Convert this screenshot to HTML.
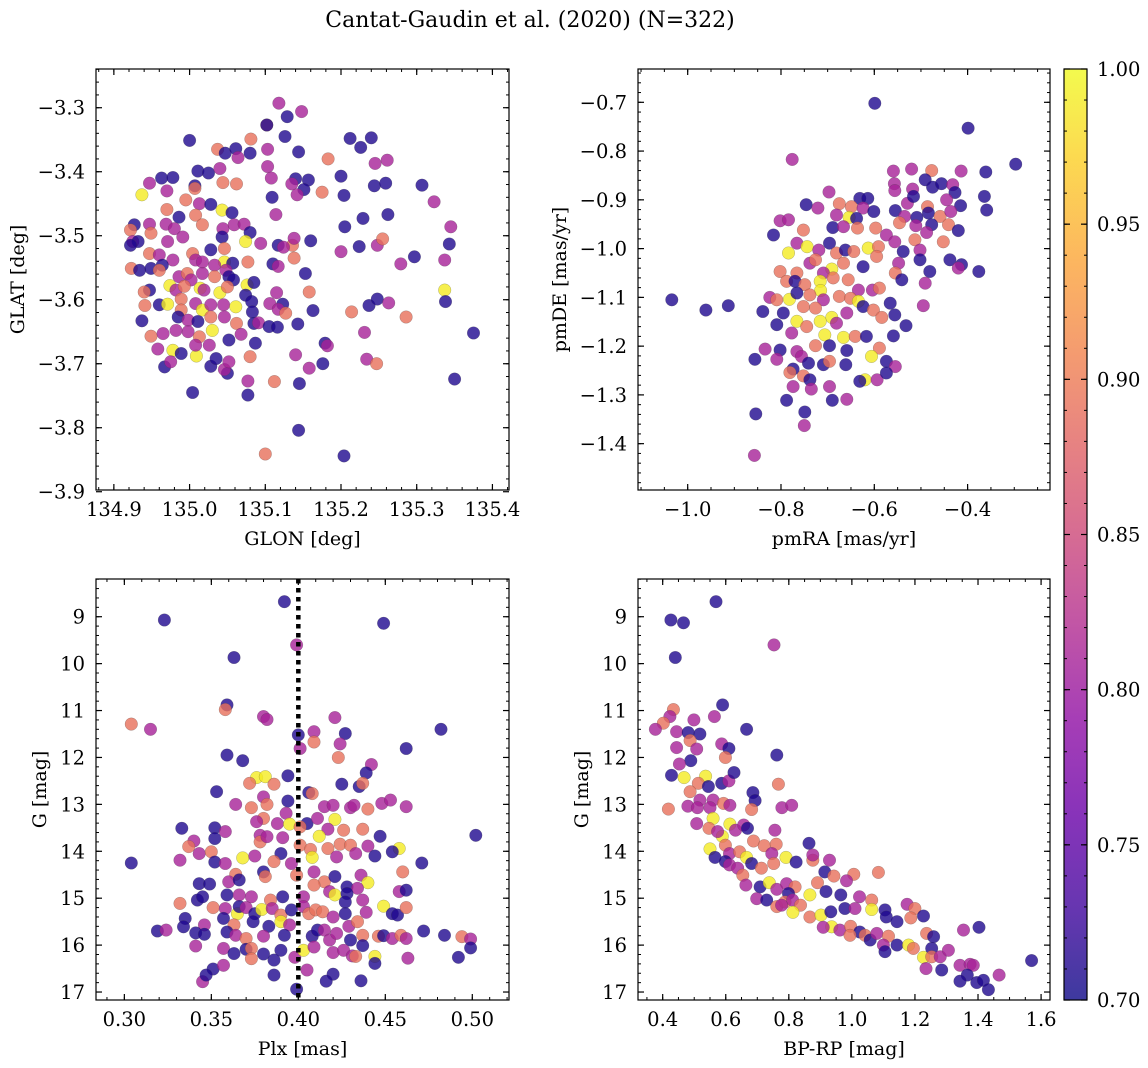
<!DOCTYPE html>
<html><head><meta charset="utf-8"><style>
html,body{margin:0;padding:0;background:#fff}
svg{display:block;font-family:"DejaVu Serif","Liberation Serif",serif}
</style></head><body>
<svg id="fig" width="1148" height="1068" viewBox="0 0 1148 1068" xmlns="http://www.w3.org/2000/svg">
<text x="530" y="27" font-size="22" text-anchor="middle">Cantat-Gaudin et al. (2020) (N=322)</text>
</svg>
<script>
// ---- Panel 1: GLON vs GLAT ----
const glonX=[135.118,135.129,135.148,135.102,135.102,135.126,135.081,135.0,135.212,135.226,135.240,135.037,135.047,135.061,135.064,135.080,135.103,135.144,135.183,135.103,135.245,135.261,135.011,135.025,135.040,135.108,135.140,135.157,135.135,135.151,135.200,135.244,135.259,135.307,134.963,134.978,134.947,134.970,134.937,135.007,135.007,135.044,135.062,135.175,135.109,135.142,135.204,135.323,134.995,135.013,135.028,135.043,135.056,134.970,134.986,135.008,135.017,135.114,135.229,135.262,135.205,135.345,134.927,134.922,134.947,134.969,134.980,134.991,134.949,134.971,134.925,134.932,134.922,135.044,135.059,135.072,135.080,135.043,135.074,135.094,135.117,135.136,135.138,135.160,135.124,135.200,135.224,135.248,135.255,135.343,135.297,135.279,135.337,134.947,134.960,135.028,135.046,135.004,134.978,135.008,135.017,134.964,135.046,135.057,135.077,135.110,135.117,135.138,134.923,134.934,134.949,134.960,135.033,135.048,135.153,134.986,134.997,135.002,135.017,135.033,135.052,135.058,134.947,134.940,134.974,134.982,134.993,135.014,135.019,135.040,135.050,135.076,135.085,135.074,135.115,135.158,135.337,134.960,134.941,134.971,134.989,134.989,135.008,135.017,135.028,135.045,135.061,135.082,135.083,135.106,135.123,135.117,135.127,135.143,135.163,135.214,135.237,135.248,135.263,135.286,135.338,134.937,134.985,134.998,135.011,135.028,135.046,135.062,135.085,135.091,135.105,135.116,135.030,134.998,135.013,134.949,134.965,134.982,135.068,135.052,135.087,135.179,135.182,135.231,135.375,134.958,134.978,134.989,135.009,135.026,135.008,134.967,134.975,135.028,135.035,135.050,135.046,135.052,135.080,135.140,135.158,135.176,135.234,135.247,135.350,135.077,135.112,135.145,135.004,135.077,135.144,135.204,135.100];
const glatY=[-3.293,-3.314,-3.306,-3.327,-3.327,-3.345,-3.349,-3.351,-3.348,-3.362,-3.347,-3.365,-3.371,-3.364,-3.378,-3.371,-3.365,-3.369,-3.380,-3.392,-3.387,-3.382,-3.399,-3.402,-3.395,-3.410,-3.411,-3.413,-3.419,-3.428,-3.407,-3.422,-3.418,-3.421,-3.410,-3.409,-3.418,-3.430,-3.436,-3.422,-3.426,-3.417,-3.419,-3.432,-3.440,-3.436,-3.437,-3.447,-3.444,-3.450,-3.451,-3.460,-3.464,-3.459,-3.471,-3.468,-3.483,-3.467,-3.473,-3.467,-3.486,-3.486,-3.483,-3.491,-3.482,-3.482,-3.489,-3.502,-3.496,-3.509,-3.509,-3.509,-3.515,-3.489,-3.483,-3.482,-3.495,-3.502,-3.509,-3.512,-3.515,-3.515,-3.504,-3.508,-3.518,-3.525,-3.517,-3.515,-3.505,-3.513,-3.533,-3.544,-3.538,-3.528,-3.530,-3.522,-3.520,-3.528,-3.538,-3.538,-3.541,-3.546,-3.541,-3.543,-3.541,-3.544,-3.548,-3.535,-3.551,-3.554,-3.551,-3.554,-3.546,-3.554,-3.559,-3.564,-3.559,-3.569,-3.559,-3.564,-3.564,-3.569,-3.585,-3.588,-3.578,-3.585,-3.579,-3.582,-3.585,-3.589,-3.580,-3.577,-3.573,-3.593,-3.589,-3.588,-3.585,-3.608,-3.609,-3.607,-3.599,-3.616,-3.606,-3.616,-3.608,-3.608,-3.611,-3.603,-3.619,-3.606,-3.607,-3.615,-3.621,-3.638,-3.617,-3.619,-3.609,-3.599,-3.605,-3.627,-3.603,-3.633,-3.627,-3.632,-3.634,-3.627,-3.627,-3.637,-3.637,-3.636,-3.642,-3.643,-3.648,-3.650,-3.658,-3.657,-3.653,-3.648,-3.654,-3.663,-3.668,-3.668,-3.672,-3.651,-3.652,-3.677,-3.679,-3.684,-3.688,-3.671,-3.671,-3.705,-3.697,-3.704,-3.692,-3.715,-3.709,-3.697,-3.689,-3.686,-3.707,-3.700,-3.693,-3.700,-3.724,-3.727,-3.728,-3.731,-3.745,-3.749,-3.804,-3.844,-3.841];
const glonP=[.81,.71,.81,.89,.71,.71,.89,.71,.71,.71,.71,.89,.71,.71,.81,.71,.81,.71,.89,.81,.81,.81,.71,.71,.81,.81,.71,.71,.81,.71,.71,.71,.71,.71,.71,.71,.81,.81,.99,.71,.89,.89,.89,.89,.71,.81,.71,.81,.89,.81,.71,.99,.71,.89,.71,.89,.89,.81,.71,.71,.71,.81,.71,.89,.81,.81,.81,.81,.89,.81,.81,.71,.71,.81,.81,.81,.71,.71,.99,.81,.71,.89,.81,.71,.81,.81,.71,.81,.89,.71,.71,.81,.81,.89,.81,.71,.89,.89,.81,.81,.81,.71,.99,.71,.89,.71,.81,.89,.89,.71,.71,.89,.81,.81,.71,.81,.89,.81,.81,.89,.71,.71,.71,.89,.99,.81,.89,.99,.81,.99,.89,.99,.71,.71,.81,.89,.99,.71,.89,.99,.89,.89,.81,.99,.81,.81,.99,.71,.71,.81,.71,.81,.89,.71,.71,.89,.71,.71,.81,.89,.71,.71,.71,.81,.71,.89,.81,.89,.71,.81,.71,.71,.99,.81,.89,.89,.81,.81,.81,.71,.71,.71,.81,.81,.71,.81,.99,.71,.99,.81,.81,.71,.81,.71,.71,.71,.81,.81,.89,.81,.81,.71,.81,.89,.71,.81,.89,.71,.71,.71,.71,.71,.89];
// ---- Panel 2: pmRA vs pmDE ----
const pmraX=[-0.599,-0.399,-0.297,-0.776,-0.559,-0.520,-0.477,-0.414,-0.361,-0.491,-0.475,-0.456,-0.432,-0.557,-0.518,-0.427,-0.364,-0.359,-0.556,-0.697,-0.631,-0.614,-0.675,-0.649,-0.529,-0.516,-0.486,-0.445,-0.415,-0.746,-0.721,-0.624,-0.601,-0.555,-0.535,-0.509,-0.484,-0.459,-0.436,-0.802,-0.784,-0.681,-0.654,-0.638,-0.546,-0.511,-0.477,-0.441,-0.420,-0.816,-0.752,-0.689,-0.666,-0.636,-0.597,-0.574,-0.488,-0.452,-0.766,-0.744,-0.784,-0.696,-0.719,-0.681,-0.662,-0.644,-0.613,-0.591,-0.556,-0.538,-0.513,-0.502,-0.438,-0.413,-0.376,-0.420,-0.802,-0.766,-0.738,-0.726,-0.691,-0.666,-0.709,-0.624,-0.595,-0.548,-0.555,-0.541,-0.502,-0.481,-0.491,-0.788,-0.770,-0.716,-0.715,-0.749,-0.688,-0.656,-0.634,-0.604,-0.589,-0.824,-0.809,-0.782,-0.766,-0.738,-0.709,-0.675,-0.651,-0.634,-0.624,-0.566,-0.495,-1.034,-0.961,-0.913,-0.839,-0.795,-0.752,-0.726,-0.691,-0.716,-0.766,-0.659,-0.602,-0.584,-0.556,-0.809,-0.745,-0.681,-0.532,-0.777,-0.706,-0.666,-0.641,-0.617,-0.559,-0.834,-0.802,-0.766,-0.726,-0.696,-0.659,-0.589,-0.856,-0.809,-0.756,-0.741,-0.709,-0.696,-0.661,-0.606,-0.574,-0.555,-0.774,-0.781,-0.752,-0.738,-0.620,-0.631,-0.594,-0.574,-0.774,-0.735,-0.696,-0.788,-0.690,-0.659,-0.854,-0.749,-0.750,-0.857];
const pmdeY=[-0.702,-0.753,-0.827,-0.817,-0.841,-0.837,-0.840,-0.841,-0.843,-0.859,-0.874,-0.867,-0.869,-0.867,-0.878,-0.885,-0.893,-0.921,-0.881,-0.884,-0.897,-0.897,-0.908,-0.914,-0.907,-0.893,-0.914,-0.900,-0.912,-0.910,-0.917,-0.917,-0.924,-0.922,-0.934,-0.936,-0.927,-0.934,-0.924,-0.943,-0.941,-0.931,-0.936,-0.938,-0.947,-0.953,-0.951,-0.951,-0.963,-0.972,-0.962,-0.957,-0.955,-0.958,-0.958,-0.972,-0.967,-0.986,-0.989,-0.996,-1.009,-0.989,-1.003,-1.009,-1.003,-1.006,-0.999,-0.996,-0.986,-1.006,-0.982,-1.003,-1.023,-1.033,-1.047,-1.040,-1.047,-1.050,-1.030,-1.023,-1.042,-1.030,-1.050,-1.037,-1.016,-1.030,-1.050,-1.064,-1.023,-1.047,-1.071,-1.067,-1.067,-1.067,-1.086,-1.074,-1.060,-1.064,-1.085,-1.085,-1.081,-1.100,-1.105,-1.104,-1.091,-1.095,-1.105,-1.098,-1.102,-1.108,-1.119,-1.112,-1.117,-1.105,-1.126,-1.117,-1.129,-1.132,-1.119,-1.122,-1.141,-1.149,-1.149,-1.132,-1.126,-1.141,-1.136,-1.156,-1.160,-1.153,-1.158,-1.173,-1.177,-1.182,-1.180,-1.180,-1.179,-1.206,-1.208,-1.211,-1.199,-1.199,-1.209,-1.204,-1.227,-1.227,-1.221,-1.235,-1.238,-1.231,-1.238,-1.221,-1.231,-1.242,-1.247,-1.254,-1.261,-1.269,-1.269,-1.272,-1.269,-1.255,-1.283,-1.288,-1.283,-1.311,-1.311,-1.309,-1.339,-1.335,-1.363,-1.424];
const pmP=[.71,.71,.71,.81,.81,.81,.89,.81,.71,.71,.71,.71,.81,.81,.81,.71,.71,.71,.81,.81,.71,.71,.89,.89,.81,.71,.89,.81,.71,.71,.81,.81,.71,.71,.81,.71,.71,.89,.81,.81,.81,.81,.99,.71,.89,.81,.71,.89,.71,.71,.89,.71,.81,.89,.89,.81,.81,.89,.81,.99,.99,.71,.81,.89,.71,.89,.99,.89,.81,.71,.89,.81,.71,.71,.71,.81,.89,.89,.81,.89,.99,.89,.81,.71,.89,.81,.89,.71,.71,.71,.81,.89,.71,.99,.99,.89,.89,.89,.81,.81,.89,.81,.89,.99,.71,.89,.81,.89,.89,.99,.71,.71,.81,.71,.71,.71,.71,.71,.89,.89,.99,.99,.99,.81,.89,.89,.71,.71,.89,.81,.71,.81,.99,.99,.89,.71,.71,.81,.71,.81,.89,.71,.71,.89,.71,.81,.81,.71,.71,.89,.71,.99,.71,.81,.71,.89,.89,.71,.99,.71,.81,.71,.81,.81,.81,.71,.71,.81,.71,.71,.81,.81];
// ---- Panel 3: Plx vs G ----
const plxX=[0.392,0.323,0.449,0.399,0.363,0.359,0.358,0.304,0.315,0.380,0.382,0.421,0.482,0.400,0.409,0.409,0.427,0.424,0.401,0.462,0.359,0.368,0.423,0.442,0.376,0.381,0.372,0.386,0.394,0.425,0.439,0.435,0.437,0.353,0.406,0.408,0.380,0.394,0.364,0.373,0.382,0.415,0.420,0.430,0.432,0.440,0.448,0.453,0.462,0.502,0.380,0.376,0.388,0.393,0.395,0.405,0.401,0.411,0.421,0.417,0.426,0.437,0.333,0.352,0.358,0.340,0.337,0.343,0.352,0.350,0.378,0.378,0.382,0.391,0.401,0.412,0.407,0.417,0.424,0.430,0.440,0.447,0.458,0.454,0.444,0.471,0.304,0.332,0.352,0.358,0.368,0.375,0.390,0.396,0.408,0.422,0.433,0.386,0.364,0.380,0.381,0.399,0.409,0.415,0.421,0.436,0.440,0.460,0.343,0.349,0.360,0.366,0.409,0.428,0.434,0.418,0.342,0.345,0.359,0.366,0.373,0.384,0.391,0.403,0.421,0.428,0.427,0.437,0.458,0.462,0.351,0.332,0.358,0.365,0.366,0.370,0.375,0.379,0.385,0.390,0.396,0.403,0.406,0.410,0.414,0.420,0.427,0.439,0.449,0.454,0.457,0.462,0.335,0.334,0.346,0.357,0.363,0.374,0.383,0.390,0.395,0.429,0.434,0.319,0.324,0.341,0.346,0.359,0.364,0.370,0.380,0.392,0.408,0.411,0.415,0.418,0.422,0.430,0.437,0.446,0.449,0.454,0.459,0.462,0.472,0.484,0.494,0.499,0.499,0.492,0.341,0.357,0.363,0.370,0.373,0.373,0.380,0.390,0.386,0.398,0.403,0.409,0.420,0.426,0.431,0.433,0.437,0.444,0.444,0.463,0.351,0.357,0.345,0.347,0.386,0.405,0.420,0.416,0.436,0.399];
const plxG=[8.68,9.07,9.14,9.60,9.87,10.88,10.98,11.29,11.40,11.13,11.19,11.15,11.40,11.52,11.45,11.67,11.49,11.71,11.81,11.81,11.95,12.07,12.00,12.15,12.43,12.41,12.55,12.57,12.39,12.57,12.33,12.62,12.55,12.73,12.75,12.77,12.84,12.93,13.00,13.07,13.00,13.05,13.02,13.07,13.02,13.10,12.98,12.91,13.05,13.66,13.30,13.37,13.41,13.19,13.42,13.41,13.48,13.30,13.32,13.53,13.55,13.53,13.51,13.50,13.58,13.78,13.90,14.05,13.73,14.01,13.66,13.80,13.69,13.71,13.87,13.68,13.96,13.94,13.85,13.87,13.89,13.68,13.94,14.01,14.10,14.25,14.25,14.19,14.23,14.26,14.14,14.10,14.05,14.26,14.13,14.12,14.05,14.22,14.49,14.44,14.54,14.51,14.44,14.65,14.54,14.51,14.67,14.44,14.69,14.70,14.65,14.61,14.72,14.76,14.79,14.86,15.04,14.97,14.93,14.93,14.97,15.04,14.97,14.97,14.93,14.90,15.08,15.04,14.86,14.83,15.20,15.11,15.22,15.33,15.18,15.20,15.33,15.24,15.22,15.36,15.25,15.18,15.33,15.25,15.29,15.40,15.33,15.30,15.17,15.33,15.36,15.20,15.43,15.61,15.57,15.43,15.57,15.50,15.60,15.50,15.57,15.60,15.50,15.70,15.68,15.74,15.77,15.72,15.79,15.86,15.81,15.79,15.81,15.68,15.68,15.89,15.75,15.89,15.79,15.81,15.80,15.86,15.79,15.86,15.70,15.79,15.82,15.87,16.06,16.26,16.02,16.07,16.18,16.09,16.07,16.29,16.19,16.11,16.32,16.26,16.11,16.04,16.16,16.11,16.23,16.24,16.01,16.24,16.39,16.28,16.51,16.43,16.78,16.64,16.64,16.53,16.62,16.77,16.76,16.94];
const plxP=[.71,.71,.71,.81,.71,.71,.89,.89,.81,.81,.81,.81,.71,.71,.81,.89,.71,.81,.81,.71,.71,.71,.89,.81,.99,.99,.89,.89,.71,.71,.71,.71,.89,.71,.71,.89,.81,.71,.81,.89,.89,.81,.81,.81,.81,.89,.81,.81,.81,.71,.89,.81,.81,.81,.99,.71,.89,.81,.99,.81,.89,.89,.71,.71,.81,.81,.89,.81,.71,.89,.81,.89,.81,.81,.89,.99,.89,.89,.89,.89,.81,.71,.99,.71,.71,.71,.71,.81,.71,.81,.99,.81,.71,.81,.99,.81,.81,.89,.89,.71,.89,.89,.81,.89,.71,.81,.99,.89,.71,.71,.81,.71,.89,.71,.81,.81,.71,.71,.71,.81,.81,.89,.71,.81,.99,.71,.71,.81,.81,.71,.89,.89,.81,.99,.71,.81,.71,.99,.81,.89,.71,.81,.89,.89,.89,.81,.71,.81,.99,.71,.71,.89,.71,.71,.81,.71,.89,.71,.71,.99,.81,.81,.89,.71,.81,.71,.71,.71,.81,.89,.81,.71,.71,.71,.81,.81,.81,.71,.89,.89,.71,.81,.89,.81,.71,.71,.89,.81,.71,.71,.81,.81,.71,.71,.89,.89,.71,.71,.71,.81,.99,.81,.81,.81,.81,.89,.71,.99,.71,.81,.71,.81,.81,.71,.71,.81,.71,.71,.71,.71,.71];
// ---- Panel 4: BP-RP vs G ----
const bprpX=[0.569,0.426,0.466,0.753,0.440,0.590,0.434,0.423,0.402,0.377,0.499,0.564,0.444,0.481,0.518,0.666,0.487,0.444,0.508,0.587,0.610,0.599,0.489,0.453,0.762,0.428,0.468,0.536,0.513,0.487,0.587,0.610,0.626,0.545,0.767,0.686,0.693,0.518,0.560,0.593,0.418,0.480,0.510,0.550,0.613,0.682,0.778,0.809,0.508,0.560,0.613,0.547,0.589,0.574,0.631,0.657,0.669,0.756,0.550,0.566,0.599,0.612,0.644,0.666,0.688,0.722,0.760,0.746,0.599,0.612,0.638,0.682,0.713,0.752,0.791,0.823,0.864,0.876,0.876,0.929,0.914,0.943,1.006,0.983,1.084,0.654,0.664,0.709,0.738,0.762,0.793,0.820,0.799,0.867,0.891,0.918,0.965,1.024,0.698,0.730,0.762,0.788,0.812,0.837,0.813,0.867,0.902,0.933,0.978,1.010,1.063,1.063,1.105,1.109,1.143,1.175,1.200,1.187,1.227,0.936,0.909,0.962,0.996,1.025,0.994,1.042,1.058,1.079,1.116,1.100,1.105,1.143,1.180,1.195,1.227,1.237,1.253,1.259,1.235,1.253,1.280,1.306,1.285,1.343,1.354,1.403,1.375,1.385,1.366,1.343,1.396,1.417,1.433,1.467,1.570,0.777];
const bprpG=[8.68,9.07,9.13,9.60,9.87,10.88,10.98,11.13,11.27,11.40,11.20,11.13,11.45,11.47,11.50,11.40,11.64,11.79,11.82,11.71,11.81,12.00,12.07,12.14,11.95,12.38,12.43,12.40,12.55,12.73,12.55,12.50,12.32,12.62,12.57,12.75,12.92,12.91,12.91,12.98,13.10,13.04,13.07,13.07,13.02,13.11,13.07,13.02,13.41,13.30,13.42,13.51,13.68,13.58,13.55,13.44,13.51,13.55,13.95,14.13,13.87,14.05,14.01,14.13,13.78,13.88,13.85,14.05,14.22,14.29,14.36,14.26,14.36,14.26,14.13,14.23,13.83,14.19,14.08,14.19,14.44,14.53,14.49,14.63,14.45,14.51,14.72,14.76,14.67,14.81,14.69,14.76,14.90,14.93,14.67,14.86,14.93,14.97,15.01,15.04,15.18,15.08,15.04,15.15,15.30,15.40,15.36,15.29,15.22,15.22,15.04,15.24,15.25,15.40,15.50,15.13,15.22,15.42,15.38,15.61,15.62,15.68,15.60,15.72,15.79,15.79,15.89,15.75,15.81,16.00,16.14,16.00,16.00,16.07,16.26,15.75,16.07,15.82,16.50,16.25,16.25,16.11,16.53,16.43,15.68,15.62,16.41,16.43,16.64,16.77,16.80,16.75,16.95,16.64,16.33,15.15];
const bprpP=[.71,.71,.71,.81,.71,.71,.89,.81,.89,.81,.81,.81,.81,.71,.71,.71,.89,.81,.81,.81,.71,.89,.71,.81,.71,.71,.99,.99,.89,.89,.71,.81,.71,.71,.89,.71,.71,.81,.81,.89,.89,.81,.81,.81,.81,.89,.81,.81,.81,.99,.99,.89,.99,.81,.81,.81,.71,.81,.99,.71,.89,.81,.89,.99,.89,.89,.89,.81,.71,.81,.81,.71,.89,.89,.99,.71,.71,.89,.81,.81,.71,.89,.89,.81,.89,.89,.81,.71,.99,.81,.81,.89,.71,.99,.89,.71,.71,.81,.81,.71,.89,.89,.81,.89,.99,.89,.99,.71,.71,.81,.89,.99,.71,.71,.71,.81,.89,.89,.71,.99,.81,.81,.89,.71,.89,.89,.71,.81,.89,.81,.71,.71,.99,.89,.99,.89,.71,.71,.81,.89,.81,.81,.71,.81,.81,.71,.81,.81,.71,.71,.71,.71,.71,.81,.71,.81];
// ---- Tick labels ----
const glonTicks=[134.9,135.0,135.1,135.2,135.3,135.4];
const glatTicks=[-3.3,-3.4,-3.5,-3.6,-3.7,-3.8,-3.9];
const pmraTicks=[-1.0,-0.8,-0.6,-0.4];
const pmdeTicks=[-0.7,-0.8,-0.9,-1.0,-1.1,-1.2,-1.3,-1.4];
const plxTicks=[0.30,0.35,0.40,0.45,0.50];
const gTicks=[9,10,11,12,13,14,15,16,17];
const bprpTicks=[0.4,0.6,0.8,1.0,1.2,1.4,1.6];
const cbarTicks=[0.70,0.75,0.80,0.85,0.90,0.95,1.00];
const plxRef=[0.40];

const NS="http://www.w3.org/2000/svg";
const fig=document.getElementById('fig');
const TF=19.5, LF=19;
function mk(tag,attrs,parent){const e=document.createElementNS(NS,tag);for(const k in attrs)e.setAttribute(k,attrs[k]);(parent||fig).appendChild(e);return e;}
const stops=["#0d0887","#41049d","#6a00a8","#8f0da4","#b12a90","#cc4778","#e16462","#f2844b","#fca636","#fcce25","#f0f921"];
function hex(h){return [parseInt(h.substr(1,2),16),parseInt(h.substr(3,2),16),parseInt(h.substr(5,2),16)];}
function plasma(t){t=Math.max(0,Math.min(1,t));const s=t*10,i=Math.min(9,Math.floor(s)),f=s-i;const a=hex(stops[i]),b=hex(stops[i+1]);return 'rgb('+a.map((v,k)=>Math.round(v+(b[k]-v)*f)).join(',')+')';}
function cmap(p){return plasma((p-0.7)/0.3);}
function fmt(v,d){return (v<0?'\u2212':'')+Math.abs(v).toFixed(d);}

function panel(cfg){
  const g=mk('g',{});
  
  
  const [L,T,R,B]=cfg.box;
  const sx=v=>L+(v-cfg.xd[0])/(cfg.xd[1]-cfg.xd[0])*(R-L);
  const sy=v=>B-(v-cfg.yd[0])/(cfg.yd[1]-cfg.yd[0])*(B-T);
  const clip=mk('clipPath',{id:'c'+cfg.name},g);mk('rect',{x:L,y:T,width:R-L,height:B-T},clip);
  const pts=mk('g',{'clip-path':'url(#c'+cfg.name+')'},g);
  
  
  for(let i=0;i<cfg.x.length;i++){
    const c=mk('circle',{cx:sx(cfg.x[i]).toFixed(1),cy:sy(cfg.y[i]).toFixed(1),r:6.3,fill:cmap(cfg.p[i]),'fill-opacity':0.8,stroke:'#444','stroke-width':0.4,'stroke-opacity':0.5},pts);
    
    
  }
  if(cfg.vline){cfg.vline.forEach(v=>{const l=mk('line',{x1:sx(v),x2:sx(v),y1:T,y2:B,stroke:'#000','stroke-width':4.5,'stroke-dasharray':'4.5,4.5'},g);
    
    });}
  mk('rect',{x:L,y:T,width:R-L,height:B-T,fill:'none',stroke:'#000','stroke-width':1.2},g);
  const mx=cfg.xmin, my=cfg.ymin;
  for(let v=Math.ceil(cfg.xd[0]/mx)*mx;v<=cfg.xd[1];v+=mx){const x=sx(v);mk('line',{x1:x,x2:x,y1:B,y2:B-3,stroke:'#000','stroke-width':1},g);mk('line',{x1:x,x2:x,y1:T,y2:T+3,stroke:'#000','stroke-width':1},g);}
  for(let v=Math.ceil(cfg.yd[0]/my)*my;v<=cfg.yd[1];v+=my){const y=sy(v);mk('line',{x1:L,x2:L+3,y1:y,y2:y,stroke:'#000','stroke-width':1},g);mk('line',{x1:R,x2:R-3,y1:y,y2:y,stroke:'#000','stroke-width':1},g);}
  cfg.xt.forEach(v=>{const x=sx(v);mk('line',{x1:x,x2:x,y1:B,y2:B-6,stroke:'#000','stroke-width':1.2},g);mk('line',{x1:x,x2:x,y1:T,y2:T+6,stroke:'#000','stroke-width':1.2},g);
    const t=mk('text',{x:x,y:B+26,'font-size':TF,'text-anchor':'middle'},g);t.textContent=fmt(v,cfg.xdec);
    
    });
  cfg.yt.forEach(v=>{const y=sy(v);mk('line',{x1:L,x2:L+6,y1:y,y2:y,stroke:'#000','stroke-width':1.2},g);mk('line',{x1:R,x2:R-6,y1:y,y2:y,stroke:'#000','stroke-width':1.2},g);
    const t=mk('text',{x:L-11,y:y+7,'font-size':TF,'text-anchor':'end'},g);t.textContent=fmt(v,cfg.ydec);
    
    });
  const xl=mk('text',{x:(L+R)/2,y:B+55,'font-size':LF,'text-anchor':'middle'},g);xl.textContent=cfg.xlab;
  
  
  const yl=mk('text',{x:0,y:0,'font-size':LF,'text-anchor':'middle',transform:'translate('+cfg.ylx+','+(T+B)/2+') rotate(-90)'},g);yl.textContent=cfg.ylab;
  
  
}
panel({name:'glon-glat-panel',box:[96,69,509,490],xd:[134.8764,135.4219],yd:[-3.8973,-3.2395],x:glonX,y:glatY,p:glonP,xt:glonTicks,yt:glatTicks,xdec:1,ydec:1,xmin:0.02,ymin:0.02,xlab:'GLON [deg]',ylab:'GLAT [deg]',ylx:24});
panel({name:'proper-motion-panel',box:[638,69,1050,490],xd:[-1.1065,-0.2234],yd:[-1.495,-0.6317],x:pmraX,y:pmdeY,p:pmP,xt:pmraTicks,yt:pmdeTicks,xdec:1,ydec:1,xmin:0.05,ymin:0.02,xlab:'pmRA [mas/yr]',ylab:'pmDE [mas/yr]',ylx:566});
panel({name:'parallax-mag-panel',box:[96,579,509,1000],xd:[0.2837,0.5211],yd:[-17.17,-8.196],x:plxX,y:plxG.map(v=>-v),p:plxP,xt:plxTicks,yt:gTicks.map(v=>-v),xdec:2,ydec:0,xmin:0.01,ymin:0.2,xlab:'Plx [mas]',ylab:'G [mag]',ylx:46,vline:plxRef});
panel({name:'cmd-panel',box:[638,579,1050,1000],xd:[0.3217,1.6283],yd:[-17.17,-8.196],x:bprpX,y:bprpG.map(v=>-v),p:bprpP,xt:bprpTicks,yt:gTicks.map(v=>-v),xdec:1,ydec:0,xmin:0.05,ymin:0.2,xlab:'BP-RP [mag]',ylab:'G [mag]',ylx:588});
document.querySelectorAll('text').forEach(t=>{if(/^\u2212\d+$/.test(t.textContent))t.textContent=t.textContent.slice(1);});

// colorbar
const cb=mk('g',{});


const CL=1064,CR=1087,CT=69,CB=1000;
const defs=mk('defs',{},cb);
const lg=mk('linearGradient',{id:'cbg',x1:0,y1:1,x2:0,y2:0},defs);
for(let i=0;i<=20;i++){mk('stop',{offset:i/20,'stop-color':plasma(i/20)},lg);}
mk('rect',{x:CL,y:CT,width:CR-CL,height:CB-CT,fill:'url(#cbg)','fill-opacity':0.8},cb);
mk('rect',{x:CL,y:CT,width:CR-CL,height:CB-CT,fill:'none',stroke:'#000','stroke-width':1.2},cb);
const cy=v=>CB-(v-0.7)/0.3*(CB-CT);
for(let v=0.70;v<=1.0001;v+=0.01){const y=cy(v);mk('line',{x1:CR,x2:CR-3,y1:y,y2:y,stroke:'#000','stroke-width':1},cb);mk('line',{x1:CL,x2:CL+3,y1:y,y2:y,stroke:'#000','stroke-width':1},cb);}
cbarTicks.forEach(v=>{const y=cy(v);mk('line',{x1:CR,x2:CR-6,y1:y,y2:y,stroke:'#000','stroke-width':1.2},cb);mk('line',{x1:CL,x2:CL+6,y1:y,y2:y,stroke:'#000','stroke-width':1.2},cb);
  const t=mk('text',{x:CR+10,y:y+7,'font-size':TF},cb);t.textContent=v.toFixed(2);
  
  });
</script>
</body></html>
